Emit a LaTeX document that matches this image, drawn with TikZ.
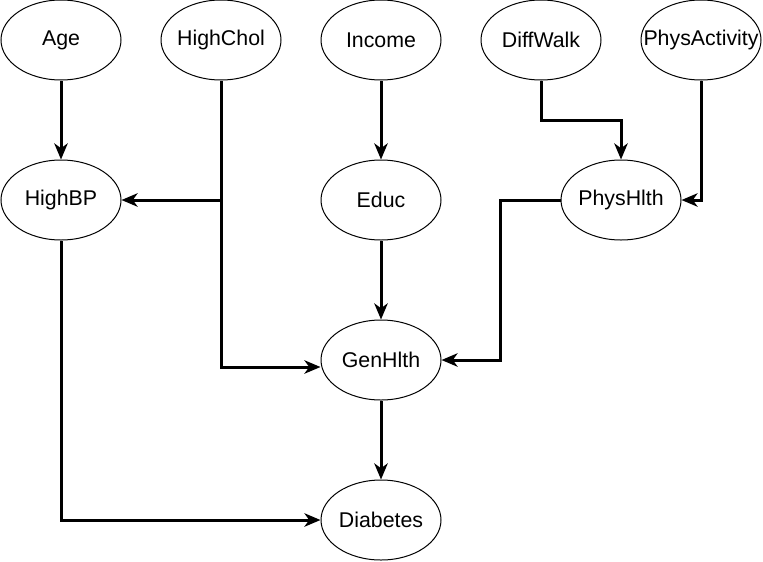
\documentclass[tikz,border=0pt]{standalone}
\usepackage{fontspec}
\setmainfont{Liberation Sans}
\usetikzlibrary{shapes.geometric,arrows.meta}
\tikzset{
  bn/.style={ellipse, draw=black, line width=0.75pt, minimum width=90pt, minimum height=60pt, inner sep=0pt, font=\fontsize{16pt}{19pt}\selectfont},
  link/.style={draw=black, line width=2.25pt, -{Stealth[length=12pt, width=10pt, inset=3.5pt]}}
}
\begin{document}
\begin{tikzpicture}[x=0.75pt, y=-0.75pt]
\useasboundingbox (0,0) rectangle (763,561);
\node[bn] (age) at (61,40) {\makebox[0pt]{Age}};
\node[bn] (hchol) at (221,40) {\makebox[0pt]{HighChol}};
\node[bn] (inc) at (381,40) {\makebox[0pt]{Income}};
\node[bn] (dw) at (541,40) {\makebox[0pt]{DiffWalk}};
\node[bn] (pa) at (701,40) {\makebox[0pt]{PhysActivity}};
\node[bn] (hbp) at (61,200) {\makebox[0pt]{HighBP}};
\node[bn] (educ) at (381,200) {\makebox[0pt]{Educ}};
\node[bn] (ph) at (621,200) {\makebox[0pt]{PhysHlth}};
\node[bn] (gh) at (381,360) {\makebox[0pt]{GenHlth}};
\node[bn] (diab) at (381,520) {\makebox[0pt]{Diabetes}};

\draw[link] (age) -- (hbp);
\draw[link] (hchol.south) |- (hbp.east);
\draw[link] (hchol.south) |- ([yshift=-5.25pt]gh.west);
\draw[link] (inc) -- (educ);
\draw[link] (dw.south) -- ++(0,40) -| (ph.north);
\draw[link] (pa.south) |- (ph.east);
\draw[link] (ph.west) -- ++(-60,0) |- (gh.east);
\draw[link] (educ) -- (gh);
\draw[link] (gh) -- (diab);
\draw[link] (hbp.south) |- (diab.west);
\end{tikzpicture}
\end{document}
